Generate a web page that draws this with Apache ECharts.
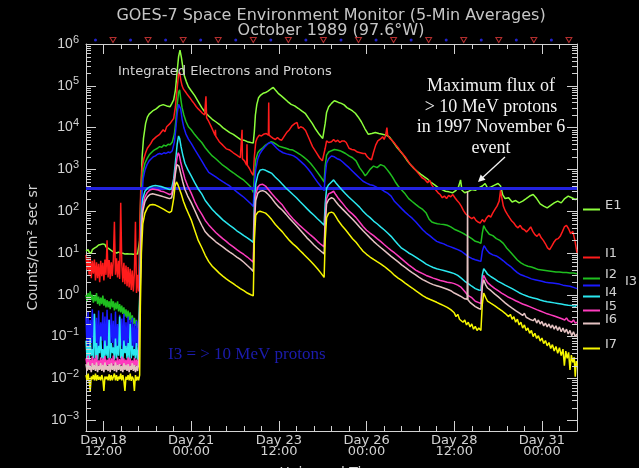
<!DOCTYPE html>
<html>
<head>
<meta charset="utf-8">
<script src="https://cdn.jsdelivr.net/npm/echarts@6/dist/echarts.min.js"></script>
<style>
  html, body { margin: 0; padding: 0; background: #000; }
  #chart { width: 639px; height: 468px; }
</style>
</head>
<body>
<div id="chart"></div>
<script>
// GOES-7 integrated particle fluxes, October 1989 (day of month, counts/cm2 sec sr)

// quiet period before the 19 October flare, shared time grid
const preDays = [
  18.00,18.03,18.06,18.09,18.12,18.15,18.18,18.21,18.24,18.27,
  18.30,18.33,18.36,18.39,18.42,18.45,18.48,18.51,18.54,18.57,
  18.60,18.63,18.66,18.69,18.72,18.75,18.78,18.81,18.84,18.87,
  18.90,18.93,18.96,18.99,19.02,19.05,19.08,19.11,19.14,19.17,
  19.20,19.23,19.26,19.29,19.32,19.35,19.38,19.41,19.44,19.47,
  19.50
];
const e1Pre = [
  11,10,12,10.5,11.5,10,12,11,13,12.5,
  14,13,15.5,14,16,14.5,16.5,15,16,14,
  15,13,13.5,12,12.5,11,12,10.5,11.5,10,
  11,10.5,11.5,10,11,9.8,10.8,9.5,10.5,9.6,
  10.6,9.4,10.4,9.5,10.2,9.3,10.2,9.5,10,9.4,
  10
];
const i1Pre = [
  9,4,7.5,3,8,2.5,6.5,3.2,7,2.2,
  6,2.5,5.5,2,6.5,2.8,5.8,2.2,7,3,
  20,2.6,6.8,2.4,6,2.8,7,56,3,7.5,
  2.6,6.5,2.4,160,5.5,2,5.8,1.8,5,1.6,
  4.6,1.5,4.2,1.3,3.8,1.2,3.4,56,1.1,3,
  1.2
];
const i2Pre = [
  1.0,0.7,1.1,0.8,1.2,0.75,1.0,0.65,0.95,0.7,
  1.1,0.6,0.9,0.55,0.85,0.6,0.95,0.55,0.8,0.5,
  0.75,0.5,0.7,0.45,0.8,0.5,0.7,0.42,0.65,0.45,
  0.7,0.4,0.6,0.38,0.55,0.35,0.5,0.3,0.45,0.28,
  0.42,0.25,0.38,0.22,0.32,0.2,0.28,0.18,0.25,0.16,
  0.2
];
const i3Pre = [
  0.30,0.05,0.40,0.045,0.25,0.07,0.45,0.05,0.35,0.06,
  0.28,0.04,0.42,0.055,0.22,0.08,0.38,0.05,0.30,0.045,
  0.44,0.06,0.26,0.05,0.36,0.07,0.24,0.04,0.40,0.055,
  0.20,0.05,0.33,0.06,0.27,0.045,0.35,0.055,0.22,0.05,
  0.30,0.07,0.25,0.045,0.28,0.055,0.20,0.05,0.24,0.06,
  0.18
];
const i4Pre = [
  0.08,0.03,0.06,0.025,0.09,0.035,0.05,0.03,0.35,0.03,
  0.07,0.028,0.06,0.04,0.10,0.03,0.05,0.025,0.08,0.035,
  0.06,0.03,0.25,0.03,0.07,0.04,0.055,0.028,0.09,0.03,
  0.06,0.035,0.30,0.03,0.05,0.025,0.08,0.04,0.06,0.03,
  0.07,0.028,0.2,0.03,0.06,0.035,0.05,0.03,0.07,0.028,
  0.05
];
const i5Pre = [
  0.030,0.020,0.035,0.018,0.028,0.020,0.033,0.017,0.030,0.021,
  0.036,0.019,0.027,0.020,0.032,0.018,0.030,0.020,0.034,0.017,
  0.028,0.021,0.031,0.018,0.030,0.020,0.035,0.019,0.027,0.020,
  0.032,0.018,0.029,0.021,0.033,0.017,0.030,0.020,0.028,0.019,
  0.032,0.018,0.030,0.020,0.027,0.018,0.031,0.020,0.028,0.019,
  0.030
];
const i6Pre = [
  0.022,0.015,0.024,0.016,0.020,0.014,0.023,0.016,0.021,0.015,
  0.024,0.014,0.020,0.016,0.023,0.015,0.021,0.014,0.024,0.016,
  0.020,0.015,0.022,0.014,0.023,0.016,0.020,0.015,0.024,0.014,
  0.021,0.016,0.022,0.015,0.020,0.014,0.023,0.016,0.021,0.015,
  0.022,0.014,0.020,0.016,0.023,0.015,0.021,0.014,0.020,0.015,
  0.022
];
const i7Pre = [
  0.012,0.009,0.013,0.0085,0.005,0.011,0.0095,0.012,0.009,0.013,
  0.0088,0.012,0.0092,0.011,0.009,0.012,0.0095,0.005,0.011,0.0095,
  0.011,0.009,0.0125,0.0088,0.012,0.009,0.0092,0.013,0.009,0.012,
  0.0087,0.011,0.0095,0.013,0.009,0.012,0.0088,0.005,0.011,0.0092,
  0.012,0.009,0.013,0.0087,0.011,0.0095,0.005,0.012,0.0088,0.011,
  0.009
];

// event period: [day, flux]
const e1Post = [
  [19.53,20],[19.56,200],[19.60,2000],[19.64,5600],[19.70,12600],[19.75,17800],[19.80,21000],[19.85,23000],
  [19.90,25000],[19.95,24000],[20.00,28000],[20.05,29500],[20.10,33000],[20.15,31600],[20.20,35500],[20.25,34000],
  [20.30,33000],[20.35,36000],[20.40,31600],[20.45,38000],[20.50,46000],[20.55,79000],[20.60,224000],[20.64,500000],
  [20.68,710000],[20.72,480000],[20.76,280000],[20.80,178000],[20.86,126000],[20.92,95000],[21.00,76000],[21.10,58000],
  [21.20,42000],[21.30,30000],[21.40,23000],[21.50,19000],[21.60,15800],[21.70,13800],[21.80,12000],[21.90,10000],
  [22.00,8700],[22.10,7600],[22.20,6900],[22.30,6000],[22.40,5200],[22.50,5000],[22.60,4600],[22.70,4400],[22.77,4300],
  [22.80,8000],[22.83,20000],[22.87,35500],[22.92,52000],[22.98,60000],[23.05,66000],[23.12,69000],[23.20,76000],
  [23.28,85000],[23.34,91000],[23.40,79000],[23.48,66000],[23.56,58000],[23.65,50000],[23.75,42000],[23.85,36000],
  [23.95,33000],[24.05,29000],[24.15,25000],[24.25,22000],[24.35,16600],[24.45,12600],[24.55,9100],[24.65,6900],
  [24.75,5500],[24.79,5200],
  [24.82,12600],[24.86,23000],[24.92,31600],[25.00,38000],[25.08,44000],[25.14,42000],[25.20,40000],[25.28,38000],
  [25.36,35000],[25.44,30000],[25.52,27500],[25.60,25000],[25.68,22000],[25.76,18000],[25.85,13800],[25.95,9500],
  [26.05,6900],[26.15,7200],[26.25,7600],[26.35,7200],[26.45,6900],[26.55,6600],[26.65,6000],[26.75,4600],
  [26.85,3500],[26.95,2800],[27.05,2200],[27.15,1660],[27.25,1300],[27.35,1050],[27.45,890],[27.55,760],
  [27.65,660],[27.75,575],[27.85,480],[27.95,420],[28.05,360],[28.15,330],[28.25,300],[28.35,290],
  [28.45,275],[28.55,316],[28.62,380],[28.68,560],[28.72,316],[28.80,275],[28.90,295],[29.00,330],
  [29.10,316],[29.20,360],[29.30,400],[29.38,460],[29.45,355],[29.55,380],[29.65,420],[29.75,460],
  [29.82,400],[29.88,250],[29.95,200],[30.05,210],[30.15,166],[30.25,180],[30.35,158],[30.45,174],
  [30.55,200],[30.65,230],[30.75,250],[30.85,200],[30.95,150],[31.05,132],[31.15,120],[31.25,138],
  [31.35,158],[31.45,174],[31.55,158],[31.65,200],[31.75,230],[31.85,210],[31.95,190],[32.00,200]
];
const i1Post = [
  [19.53,32],[19.56,316],[19.60,1100],[19.65,1800],[19.70,2500],[19.75,3200],[19.80,3500],[19.85,4200],
  [19.90,5000],[19.95,4600],[20.00,6000],[20.05,5500],[20.10,6900],[20.15,6300],[20.20,8900],[20.25,7900],
  [20.30,10500],[20.35,9500],[20.40,12600],[20.45,14000],[20.50,16600],[20.55,31600],[20.60,89000],[20.64,190000],
  [20.67,214000],[20.70,141000],[20.74,100000],[20.78,83000],[20.84,71000],[20.90,60000],[20.96,52000],[21.02,44000],
  [21.08,38000],[21.14,32000],[21.20,28000],[21.26,25000],[21.32,22000],[21.38,20000],[21.42,56000],[21.44,17000],
  [21.50,14000],[21.56,11000],[21.62,8500],[21.68,6500],[21.69,8900],[21.70,6200],[21.74,5500],[21.80,4600],
  [21.90,3800],[22.00,3100],[22.10,2900],[22.20,2500],[22.30,2200],[22.40,1900],[22.44,1800],[22.45,8900],
  [22.46,1800],[22.52,1600],[22.58,1260],[22.59,4000],[22.60,1260],[22.66,1050],[22.72,830],[22.77,720],
  [22.80,2000],[22.84,4500],[22.88,5600],[22.94,6600],[23.00,6300],[23.06,6900],[23.10,6300],[23.14,7200],
  [23.20,6600],[23.21,40000],[23.22,6600],[23.28,6000],[23.34,5500],[23.40,5200],[23.46,5800],[23.52,5200],
  [23.58,5000],[23.64,6000],[23.72,7600],[23.80,8900],[23.88,11200],[23.96,12600],[24.02,13200],[24.06,9500],
  [24.12,10500],[24.18,10000],[24.26,8500],[24.36,5500],[24.46,3500],[24.56,2600],[24.66,1900],[24.74,1600],[24.79,1500],
  [24.82,3200],[24.86,4800],[24.92,4400],[25.00,4600],[25.06,5200],[25.12,4600],[25.18,5000],[25.24,4400],
  [25.30,4800],[25.36,4800],[25.42,4400],[25.50,3200],[25.58,3000],[25.66,2900],[25.74,2600],[25.82,2500],
  [25.90,2400],[25.96,2400],[26.02,2000],[26.08,1800],[26.14,1700],[26.20,2600],[26.26,3800],[26.32,4800],
  [26.38,5200],[26.42,4800],[26.46,6000],[26.50,5200],[26.54,6300],[26.58,10000],[26.60,6600],[26.66,5500],
  [26.72,5000],[26.78,4400],[26.84,3800],[26.90,3300],[26.96,2750],[27.02,2400],[27.10,2000],[27.18,1600],
  [27.26,1260],[27.34,1100],[27.42,910],[27.50,760],[27.58,630],[27.66,575],[27.74,480],[27.80,550],
  [27.86,420],[27.92,360],[27.98,316],[28.04,275],[28.10,250],[28.16,210],[28.22,230],[28.28,200],
  [28.34,240],[28.40,220],[28.46,250],[28.52,210],[28.58,180],[28.64,158],[28.70,132],[28.76,105],
  [28.82,87],[28.88,79],[28.94,72],[29.00,66],[29.06,72],[29.12,60],[29.18,55],[29.24,52],
  [29.30,63],[29.36,55],[29.42,69],[29.48,79],[29.54,72],[29.60,91],[29.66,110],[29.72,132],
  [29.78,174],[29.82,316],[29.86,200],[29.90,132],[29.96,100],[30.02,83],[30.08,69],[30.14,58],
  [30.20,52],[30.26,44],[30.32,40],[30.38,46],[30.44,38],[30.50,36],[30.56,32],[30.62,36],
  [30.68,42],[30.74,33],[30.80,27.5],[30.86,25],[30.92,29],[30.98,23],[31.04,20],[31.10,16.6],
  [31.16,13.2],[31.22,12],[31.28,14.5],[31.34,18],[31.40,21],[31.46,22],[31.52,25],[31.58,32],
  [31.64,42],[31.70,46],[31.76,38],[31.82,29],[31.88,33],[31.94,20],[32.00,10]
];
const i2Post = [
  [19.53,0.8],[19.56,30],[19.59,400],[19.63,900],[19.68,1400],[19.74,1800],[19.80,2200],[19.86,2500],
  [19.92,2800],[19.98,3000],[20.04,3200],[20.10,3500],[20.16,3400],[20.22,3800],[20.28,3600],[20.34,4000],
  [20.40,3900],[20.46,4500],[20.52,7000],[20.56,14000],[20.60,35000],[20.64,70000],[20.67,80000],[20.70,50000],
  [20.74,30000],[20.79,20000],[20.85,14000],[20.92,10500],[21.00,8900],[21.10,6800],[21.20,5400],[21.30,4400],
  [21.40,3300],[21.50,2600],[21.60,2100],[21.70,1800],[21.80,1500],[21.90,1260],[22.00,1100],[22.10,950],
  [22.20,830],[22.30,720],[22.40,630],[22.50,550],[22.60,460],[22.70,380],[22.77,280],
  [22.80,700],[22.84,1700],[22.90,2500],[22.96,2900],[23.04,3300],[23.12,3800],[23.20,4200],[23.28,4600],
  [23.34,4400],[23.42,4000],[23.50,3600],[23.60,3400],[23.70,3200],[23.80,3000],[23.90,2900],[24.00,2600],
  [24.10,2300],[24.20,2000],[24.30,1700],[24.40,1400],[24.50,1100],[24.60,850],[24.70,650],[24.79,500],
  [24.82,1200],[24.86,2200],[24.92,2600],[25.00,2800],[25.08,3000],[25.16,2900],[25.24,2800],[25.32,2600],
  [25.40,2400],[25.50,2100],[25.60,1900],[25.70,1600],[25.80,1100],[25.90,850],[25.96,700],[26.02,800],
  [26.10,1000],[26.20,1200],[26.30,1100],[26.40,1300],[26.50,1200],[26.58,1000],[26.66,820],[26.74,650],
  [26.82,500],[26.90,400],[27.00,320],[27.10,260],[27.20,200],[27.30,170],[27.40,145],[27.50,125],
  [27.60,110],[27.70,90],[27.78,65],[27.86,55],[27.94,52],[28.02,50],[28.10,49],[28.20,48],
  [28.30,46],[28.40,42],[28.50,37],[28.60,34],[28.70,31],[28.80,28],[28.90,25],[29.00,22],
  [29.10,19],[29.20,18],[29.26,17],[29.30,30],[29.34,45],[29.40,36],[29.50,28],[29.60,26],
  [29.70,22],[29.80,20],[29.90,17],[30.00,13],[30.10,10.5],[30.20,8.5],[30.30,6.8],[30.40,5.8],
  [30.50,5.2],[30.60,4.8],[30.70,4.6],[30.80,4.3],[30.90,4.0],[31.00,3.9],[31.10,3.8],[31.20,3.7],
  [31.30,3.6],[31.40,3.5],[31.50,3.5],[31.60,3.4],[31.70,3.4],[31.80,3.3],[31.90,3.3],[32.00,3.2]
];
const i3Post = [
  [19.53,0.3],[19.56,15],[19.59,200],[19.63,600],[19.68,950],[19.74,1300],[19.80,1600],[19.86,1800],
  [19.92,2000],[19.98,2100],[20.04,2300],[20.10,2400],[20.16,2300],[20.22,2500],[20.28,2400],[20.34,2600],
  [20.40,2500],[20.46,2800],[20.52,4500],[20.56,9000],[20.60,22000],[20.64,36000],[20.67,40000],[20.70,28000],
  [20.74,16000],[20.79,10000],[20.85,7000],[20.92,5300],[21.00,4200],[21.10,3000],[21.20,2200],[21.30,1600],
  [21.40,1150],[21.50,850],[21.60,750],[21.70,660],[21.80,580],[21.90,510],[22.00,450],[22.10,400],
  [22.20,340],[22.30,290],[22.40,250],[22.50,215],[22.60,180],[22.70,150],[22.77,130],
  [22.80,400],[22.84,1000],[22.90,1800],[22.96,2400],[23.04,3000],[23.12,3600],[23.20,4200],[23.28,4400],
  [23.36,3800],[23.44,3200],[23.52,2800],[23.62,2500],[23.72,2350],[23.82,2250],[23.92,2100],[24.02,1850],
  [24.12,1550],[24.22,1300],[24.32,1050],[24.42,820],[24.52,620],[24.62,470],[24.72,370],[24.79,310],
  [24.82,700],[24.86,1400],[24.92,1800],[25.00,2100],[25.08,2000],[25.16,1800],[25.24,1700],[25.32,1500],
  [25.40,1300],[25.50,1100],[25.60,900],[25.70,750],[25.80,620],[25.90,520],[26.00,470],[26.10,430],
  [26.20,410],[26.30,370],[26.40,340],[26.50,300],[26.60,270],[26.70,230],[26.80,170],[26.90,140],
  [27.00,115],[27.10,95],[27.20,80],[27.30,68],[27.40,56],[27.50,45],[27.60,36],[27.70,30],
  [27.80,26],[27.90,22],[28.00,19],[28.10,17.5],[28.20,16.5],[28.30,15],[28.40,14],[28.50,13],
  [28.60,12],[28.70,11],[28.80,9.5],[28.90,8.2],[29.00,7.4],[29.10,6.9],[29.20,6.5],[29.26,6.3],
  [29.30,11],[29.35,15],[29.42,12],[29.50,10],[29.60,9],[29.70,8.5],[29.80,7.5],[29.90,6.5],
  [30.00,5.5],[30.10,4.8],[30.20,4.0],[30.30,3.4],[30.40,3.0],[30.50,2.8],[30.60,2.6],[30.70,2.4],
  [30.80,2.3],[30.90,2.2],[31.00,2.1],[31.10,2.0],[31.20,1.95],[31.30,1.9],[31.40,1.85],[31.50,1.8],
  [31.60,1.7],[31.70,1.65],[31.80,1.6],[31.90,1.5],[32.00,1.4]
];
const i4Post = [
  [19.53,0.05],[19.55,5],[19.58,80],[19.62,200],[19.68,300],[19.75,350],[19.82,380],[19.90,400],
  [19.98,410],[20.06,400],[20.14,390],[20.22,370],[20.30,350],[20.38,330],[20.44,340],[20.50,600],
  [20.55,1500],[20.60,4000],[20.64,6300],[20.67,5500],[20.71,3500],[20.76,2200],[20.82,1400],[20.90,1000],
  [21.00,700],[21.10,480],[21.20,340],[21.30,260],[21.40,180],[21.50,140],[21.60,110],[21.70,90],
  [21.80,75],[21.90,62],[22.00,53],[22.10,46],[22.20,40],[22.30,34],[22.40,30],[22.50,26],
  [22.60,23],[22.70,20],[22.77,18],
  [22.80,150],[22.84,450],[22.90,750],[22.96,950],[23.04,1000],[23.12,950],[23.20,880],[23.30,800],
  [23.40,650],[23.50,540],[23.60,440],[23.70,360],[23.80,300],[23.90,250],[24.00,210],[24.10,170],
  [24.20,140],[24.30,115],[24.40,95],[24.50,80],[24.60,66],[24.70,55],[24.79,46],
  [24.82,150],[24.86,350],[24.92,430],[25.00,500],[25.06,560],[25.12,480],[25.20,400],[25.30,320],
  [25.40,260],[25.50,215],[25.60,180],[25.70,150],[25.80,125],[25.90,100],[26.00,82],[26.10,70],
  [26.20,58],[26.30,50],[26.40,42],[26.50,36],[26.60,30],[26.70,25],[26.80,20],[26.90,16],
  [27.00,13],[27.10,11.5],[27.20,10],[27.30,9],[27.40,8],[27.50,7],[27.60,6.2],[27.70,5.4],
  [27.80,4.9],[27.90,4.5],[28.00,4.2],[28.10,4.0],[28.20,3.8],[28.30,3.6],[28.40,3.4],[28.50,3.2],
  [28.60,2.9],[28.70,2.5],[28.80,2.1],[28.90,1.85],[29.00,1.6],[29.10,1.4],[29.20,1.3],[29.26,1.28],
  [29.30,3],[29.34,4.2],[29.40,3.6],[29.45,3.1],[29.50,3.2],[29.55,2.7],[29.60,2.8],[29.65,2.4],
  [29.70,2.5],[29.75,2.1],[29.80,2.2],[29.85,1.9],[29.90,2.0],[29.95,1.7],[30.00,1.85],[30.05,1.55],
  [30.10,1.65],[30.15,1.4],[30.20,1.5],[30.25,1.25],[30.30,1.35],[30.35,1.12],[30.40,1.2],[30.45,1.02],
  [30.50,1.1],[30.55,0.95],[30.60,1.02],[30.65,0.88],[30.70,0.96],[30.75,0.84],[30.80,0.9],[30.85,0.8],
  [30.90,0.85],[30.95,0.75],[31.00,0.8],[31.05,0.71],[31.10,0.77],[31.15,0.68],[31.20,0.74],[31.25,0.66],
  [31.30,0.72],[31.35,0.64],[31.40,0.7],[31.45,0.62],[31.50,0.68],[31.55,0.6],[31.60,0.66],[31.65,0.58],
  [31.70,0.64],[31.75,0.56],[31.80,0.62],[31.85,0.55],[31.90,0.6],[31.95,0.53],[32.00,0.58]
];
const i5Post = [
  [19.53,0.03],[19.55,3],[19.58,50],[19.62,130],[19.68,220],[19.75,280],[19.82,320],[19.90,340],
  [19.98,330],[20.06,320],[20.14,300],[20.22,290],[20.30,270],[20.38,250],[20.44,260],[20.50,450],
  [20.55,1000],[20.60,2000],[20.63,2500],[20.66,2200],[20.70,1500],[20.75,1000],[20.82,600],[20.90,400],
  [21.00,270],[21.10,170],[21.20,115],[21.30,85],[21.40,60],[21.50,47],[21.60,38],[21.70,31],
  [21.80,26],[21.90,22],[22.00,19],[22.10,16],[22.20,14],[22.30,12],[22.40,10.5],[22.50,9.2],
  [22.60,8],[22.70,6.8],[22.77,6],
  [22.80,80],[22.84,250],[22.90,380],[22.96,430],[23.04,440],[23.12,400],[23.20,330],[23.30,260],
  [23.40,210],[23.50,170],[23.60,140],[23.70,105],[23.80,82],[23.90,66],[24.00,54],[24.10,45],
  [24.20,38],[24.30,32],[24.40,27],[24.50,23],[24.60,19],[24.70,16],[24.79,14],
  [24.82,70],[24.86,200],[24.92,260],[25.00,280],[25.06,300],[25.12,250],[25.20,200],[25.30,160],
  [25.40,125],[25.50,100],[25.60,85],[25.70,70],[25.80,55],[25.90,43],[26.00,35],[26.10,30],
  [26.20,26],[26.30,22],[26.40,19],[26.50,16],[26.60,13.5],[26.70,11.5],[26.80,10],[26.90,8.5],
  [27.00,7.2],[27.10,6.1],[27.20,5.2],[27.30,4.5],[27.40,3.9],[27.50,3.5],[27.60,3.2],[27.70,2.9],
  [27.80,2.7],[27.90,2.5],[28.00,2.35],[28.10,2.2],[28.20,2.1],[28.30,2.0],[28.40,1.95],[28.50,1.85],
  [28.60,1.7],[28.70,1.5],[28.80,1.2],[28.90,0.95],[29.00,0.85],[29.10,0.7],[29.20,0.65],[29.26,0.62],
  [29.30,2.2],[29.34,2.9],[29.40,2.3],[29.45,1.95],[29.50,2.0],[29.55,1.65],[29.60,1.7],[29.65,1.42],
  [29.70,1.48],[29.75,1.25],[29.80,1.3],[29.85,1.1],[29.90,1.15],[29.95,0.98],[30.00,1.02],[30.05,0.87],
  [30.10,0.92],[30.15,0.8],[30.20,0.84],[30.25,0.72],[30.30,0.76],[30.35,0.66],[30.40,0.7],[30.45,0.6],
  [30.50,0.64],[30.55,0.56],[30.60,0.6],[30.65,0.52],[30.70,0.56],[30.75,0.48],[30.80,0.52],[30.85,0.44],
  [30.90,0.48],[30.95,0.41],[31.00,0.44],[31.05,0.38],[31.10,0.41],[31.15,0.35],[31.20,0.38],[31.25,0.33],
  [31.30,0.36],[31.35,0.31],[31.40,0.34],[31.45,0.29],[31.50,0.32],[31.55,0.27],[31.60,0.3],[31.65,0.25],
  [31.70,0.28],[31.75,0.24],[31.80,0.26],[31.85,0.22],[31.90,0.25],[31.95,0.21],[32.00,0.22]
];
const i6Post = [
  [19.53,0.02],[19.55,2],[19.58,35],[19.62,100],[19.68,170],[19.75,220],[19.82,250],[19.90,260],
  [19.98,250],[20.06,240],[20.14,230],[20.22,220],[20.30,210],[20.38,200],[20.44,210],[20.50,350],
  [20.55,800],[20.59,1300],[20.62,1450],[20.65,1200],[20.70,800],[20.76,500],[20.82,330],[20.90,230],
  [21.00,160],[21.10,105],[21.20,68],[21.30,46],[21.40,32],[21.50,26],[21.60,22],[21.70,18.5],
  [21.80,16],[21.90,14],[22.00,12],[22.10,10.5],[22.20,9.2],[22.30,8],[22.40,7],[22.50,6],
  [22.60,5],[22.70,4.2],[22.77,3.6],
  [22.80,50],[22.84,180],[22.90,270],[22.96,300],[23.04,310],[23.12,290],[23.20,250],[23.30,200],
  [23.40,155],[23.50,125],[23.60,105],[23.70,85],[23.80,68],[23.90,55],[24.00,45],[24.10,36],
  [24.20,29],[24.30,23],[24.40,19],[24.50,15.5],[24.60,13],[24.70,11],[24.79,9.5],
  [24.82,50],[24.86,150],[24.92,190],[25.00,210],[25.06,200],[25.12,170],[25.20,140],[25.30,115],
  [25.40,95],[25.50,78],[25.60,64],[25.70,52],[25.80,42],[25.90,34],[26.00,28],[26.10,23],
  [26.20,19],[26.30,16],[26.40,13.5],[26.50,11.5],[26.60,9.8],[26.70,8.3],[26.80,7.1],[26.90,6.1],
  [27.00,5.2],[27.10,4.5],[27.20,3.9],[27.30,3.4],[27.40,3.0],[27.50,2.6],[27.60,2.3],[27.70,2.1],
  [27.80,1.9],[27.90,1.75],[28.00,1.65],[28.10,1.55],[28.20,1.45],[28.30,1.35],[28.40,1.25],[28.50,1.1],
  [28.60,1.0],[28.70,0.9],[28.80,0.8],[28.87,0.78],[28.88,300],[28.89,0.76],[28.95,0.66],[29.00,0.6],
  [29.10,0.52],[29.20,0.47],[29.26,0.45],[29.30,1.6],[29.34,2.3],
  [29.40,1.7],[29.45,1.45],[29.50,1.5],[29.55,1.25],[29.60,1.3],[29.65,1.05],[29.70,1.1],[29.75,0.9],
  [29.80,0.95],[29.85,0.76],[29.90,0.8],[29.95,0.64],[30.00,0.68],[30.05,0.55],[30.10,0.6],[30.15,0.48],
  [30.20,0.52],[30.25,0.42],[30.30,0.46],[30.35,0.37],[30.40,0.4],[30.45,0.32],[30.50,0.36],[30.55,0.29],
  [30.60,0.32],[30.65,0.26],[30.70,0.29],[30.75,0.24],[30.80,0.27],[30.85,0.21],[30.90,0.25],[30.95,0.2],
  [31.00,0.23],[31.05,0.18],[31.10,0.21],[31.15,0.17],[31.20,0.2],[31.25,0.16],[31.30,0.19],[31.35,0.15],
  [31.40,0.18],[31.45,0.14],[31.50,0.17],[31.55,0.13],[31.60,0.16],[31.65,0.125],[31.70,0.15],[31.75,0.115],
  [31.80,0.14],[31.85,0.105],[31.90,0.13],[31.95,0.1],[32.00,0.115]
];
const i7Post = [
  [19.53,0.012],[19.55,0.5],[19.58,10],[19.62,50],[19.68,90],[19.75,120],[19.82,140],[19.90,145],
  [19.98,140],[20.06,130],[20.14,120],[20.22,110],[20.30,100],[20.38,92],[20.44,100],[20.50,200],
  [20.54,400],[20.58,500],[20.62,430],[20.67,330],[20.72,250],[20.78,170],[20.85,120],[20.92,88],
  [21.00,62],[21.10,35],[21.20,20],[21.30,13.5],[21.40,8.8],[21.50,6.2],[21.60,4.8],[21.70,4],
  [21.80,3.3],[21.90,2.8],[22.00,2.4],[22.10,2.1],[22.20,1.85],[22.30,1.6],[22.40,1.4],[22.50,1.25],
  [22.60,1.1],[22.70,1.0],[22.77,0.95],
  [22.80,20],[22.84,80],[22.90,95],[22.96,100],[23.04,95],[23.12,90],[23.20,78],[23.30,62],
  [23.40,48],[23.50,39],[23.60,32],[23.70,25],[23.80,20],[23.90,16.5],[24.00,14],[24.10,11.5],
  [24.20,9.5],[24.30,7.8],[24.40,6.4],[24.50,5.2],[24.60,4.2],[24.70,3.3],[24.79,2.6],
  [24.82,20],[24.86,70],[24.92,90],[25.00,95],[25.06,90],[25.12,75],[25.20,58],[25.30,45],
  [25.40,36],[25.50,28],[25.60,22],[25.70,18],[25.80,14],[25.90,11],[26.00,9.3],[26.10,8],
  [26.20,7],[26.30,6.2],[26.40,5.5],[26.50,4.8],[26.60,4.1],[26.70,3.5],[26.80,2.9],[26.90,2.5],
  [27.00,2.2],[27.10,1.9],[27.20,1.65],[27.30,1.45],[27.40,1.25],[27.50,1.1],[27.60,0.95],[27.70,0.85],
  [27.80,0.78],[27.90,0.72],[28.00,0.66],[28.10,0.6],[28.20,0.55],[28.30,0.5],[28.40,0.44],
  [28.50,0.37],[28.55,0.3],[28.60,0.34],[28.65,0.26],[28.70,0.29],[28.75,0.22],[28.80,0.25],[28.85,0.19],
  [28.90,0.22],[28.95,0.17],[29.00,0.2],[29.05,0.15],[29.10,0.175],[29.15,0.14],[29.20,0.16],[29.26,0.14],
  [29.30,0.6],[29.34,1.1],
  [29.40,0.85],[29.45,0.7],[29.50,0.78],[29.55,0.62],[29.60,0.68],[29.65,0.55],[29.70,0.6],[29.75,0.48],
  [29.80,0.52],[29.85,0.42],[29.90,0.45],[29.95,0.36],[30.00,0.4],[30.05,0.3],[30.10,0.34],[30.15,0.26],
  [30.20,0.3],[30.25,0.22],[30.30,0.26],[30.35,0.19],[30.40,0.22],[30.45,0.16],[30.50,0.19],[30.55,0.14],
  [30.60,0.16],[30.65,0.12],[30.70,0.14],[30.75,0.1],[30.80,0.12],[30.85,0.09],[30.90,0.105],[30.95,0.078],
  [31.00,0.092],[31.05,0.068],[31.10,0.08],[31.15,0.06],[31.20,0.072],[31.25,0.052],[31.30,0.064],[31.35,0.045],
  [31.40,0.058],[31.45,0.04],[31.50,0.054],[31.55,0.035],[31.60,0.05],[31.64,0.02],[31.68,0.045],[31.72,0.03],
  [31.76,0.042],[31.80,0.016],[31.84,0.036],[31.88,0.024],[31.92,0.032],[31.95,0.011],[31.98,0.026],[32.00,0.02]
];

const channelNames = ['E1', 'I1', 'I2', 'I3', 'I4', 'I5', 'I6', 'I7'];
const preSets = [e1Pre, i1Pre, i2Pre, i3Pre, i4Pre, i5Pre, i6Pre, i7Pre];
const postSets = [e1Post, i1Post, i2Post, i3Post, i4Post, i5Post, i6Post, i7Post];

// local noon (18:30 UT) and local midnight (06:30 UT) at 97.6°W
const localNoon = [18.77,19.77,20.77,21.77,22.77,23.77,24.77,25.77,26.77,27.77,28.77,29.77,30.77,31.77];
const localMidnight = [18.27,19.27,20.27,21.27,22.27,23.27,24.27,25.27,26.27,27.27,28.27,29.27,30.27,31.27];

// axis ticks
const dayTicks = [18.5, 21, 23.5, 26, 28.5, 31];
const dayTickLabels = ['Day 18\n12:00', 'Day 21\n00:00', 'Day 23\n12:00', 'Day 26\n00:00', 'Day 28\n12:00', 'Day 31\n00:00'];
const decadeTicks = [1e-3, 1e-2, 1e-1, 1, 10, 100, 1e3, 1e4, 1e5, 1e6];

// peak >10 MeV proton flux of the 1997 November 6 event
const nov1997Max = 345;

// ---- styling ----
const channelColors = ['#8cff3c', '#ff1c1c', '#1fbf1f', '#1a1aff', '#2ae8f0', '#ff3cbe', '#e4c2c2', '#f6f600'];
const legendLineY = [208, 256, 277, 284, 295, 309, 322, 347];
const ink = '#d2d2d2';
const sans = '"DejaVu Sans", sans-serif';
const serif = '"Liberation Serif", "DejaVu Serif", serif';
const yMin = 5.5e-4, yMax = 1e6;

// 2..9 x 10^n positions for the short log ticks on both frame sides
const minorLogTicks = [];
for (let e = -3; e <= 5; e++) {
  for (let m = 2; m <= 9; m++) minorLogTicks.push(m * Math.pow(10, e));
}

const chart = echarts.init(document.getElementById('chart'), null, { renderer: 'canvas' });

const baseX = {
  type: 'value', min: 18, max: 32, gridIndex: 0,
  splitLine: { show: false },
  axisLine: { show: true, lineStyle: { color: ink, width: 1 } }
};
const baseY = {
  type: 'log', logBase: 10, min: yMin, max: yMax, gridIndex: 0,
  splitLine: { show: false }, minorTick: { show: false },
  axisLine: { show: true, lineStyle: { color: ink, width: 1 } }
};

const expText = v => {
  const e = Math.round(Math.log10(v));
  return '{b|10}{s|' + (e < 0 ? '\u2212' + (-e) : String(e)) + '}';
};

const lineSeries = channelNames.map((name, k) => ({
  name: name,
  type: 'line',
  xAxisIndex: 0, yAxisIndex: 0,
  data: preDays.map((t, i) => [t, preSets[k][i]]).concat(postSets[k]),
  showSymbol: false, symbol: 'none',
  lineStyle: { color: channelColors[k], width: 1.5 },
  itemStyle: { color: channelColors[k] },
  z: 2 + k,
  animation: false
}));

const legends = channelNames.map((name, k) => ({
  data: [name],
  left: 583, top: legendLineY[k] - 9,
  orient: 'vertical', padding: 0,
  icon: 'rect', itemWidth: 17, itemHeight: 2, itemGap: 0,
  selectedMode: false,
  formatter: n => '{t|' + n + '}',
  textStyle: {
    rich: {
      t: { color: ink, fontFamily: sans, fontSize: 13,
           padding: name === 'I3' ? [0, 0, 8, 20] : [0, 0, 8, 0] }
    }
  }
}));

const option = {
  backgroundColor: '#000',
  animation: false,
  grid: { left: 86, right: 62, top: 44, bottom: 37, containLabel: false, outerBoundsMode: 'none' },
  legend: legends,
  xAxis: [
    Object.assign({}, baseX, { position: 'bottom', interval: 0.5,
      axisTick: { show: true, inside: true, length: 5, lineStyle: { color: ink } },
      axisLabel: { show: false },
      name: 'Universal Time', nameLocation: 'middle', nameGap: 35,
      nameTextStyle: { color: ink, fontFamily: sans, fontSize: 14 } }),
    Object.assign({}, baseX, { position: 'bottom',
      axisLine: { show: false },
      axisTick: { show: true, inside: true, length: 10, customValues: dayTicks, lineStyle: { color: ink } },
      axisLabel: { show: true, customValues: dayTicks, color: ink, fontFamily: sans, fontSize: 13,
        lineHeight: 11, margin: 4,
        formatter: v => dayTickLabels[dayTicks.indexOf(v)] } }),
    Object.assign({}, baseX, { position: 'top', interval: 0.5,
      axisTick: { show: true, inside: true, length: 5, lineStyle: { color: ink } },
      axisLabel: { show: false } }),
    Object.assign({}, baseX, { position: 'top',
      axisLine: { show: false },
      axisTick: { show: true, inside: true, length: 10, customValues: dayTicks, lineStyle: { color: ink } },
      axisLabel: { show: false } })
  ],
  yAxis: [
    Object.assign({}, baseY, { position: 'left',
      axisTick: { show: true, inside: true, length: 10, customValues: decadeTicks, lineStyle: { color: ink } },
      axisLabel: { show: true, customValues: decadeTicks, margin: 7, formatter: expText,
        rich: {
          b: { color: ink, fontFamily: '"Liberation Sans", sans-serif', fontSize: 14 },
          s: { color: ink, fontFamily: '"Liberation Sans", sans-serif', fontSize: 11, padding: [0, 0, 9, 0] }
        } },
      name: 'Counts/cm\u00b2 sec sr', nameLocation: 'middle', nameGap: 46, nameRotate: 90,
      nameTextStyle: { color: ink, fontFamily: sans, fontSize: 14, padding: [0, 20, 0, 0] } }),
    Object.assign({}, baseY, { position: 'right',
      axisTick: { show: true, inside: true, length: 10, customValues: decadeTicks, lineStyle: { color: ink } },
      axisLabel: { show: false } })
  ],
  series: lineSeries.concat([
    {
      name: 'Nov 1997 maximum',
      type: 'line', xAxisIndex: 0, yAxisIndex: 0, data: [],
      z: 20, silent: true,
      markLine: {
        silent: true, symbol: 'none', animation: false,
        label: { show: false },
        lineStyle: { color: '#2222e0', width: 3, type: 'solid' },
        data: [{ yAxis: nov1997Max }]
      }
    },
    {
      name: 'log ticks', type: 'custom', xAxisIndex: 0, yAxisIndex: 0,
      data: minorLogTicks.map(v => [18, v]), silent: true, clip: false, z: 25,
      renderItem: (params, api) => {
        const l = api.coord([18, api.value(1)]);
        const r = api.coord([32, api.value(1)]);
        const y = Math.round(l[1]) + 0.5;
        return {
          type: 'group',
          children: [
            { type: 'line', shape: { x1: l[0], y1: y, x2: l[0] + 5, y2: y }, style: { stroke: ink, lineWidth: 1 } },
            { type: 'line', shape: { x1: r[0] - 5, y1: y, x2: r[0], y2: y }, style: { stroke: ink, lineWidth: 1 } }
          ]
        };
      }
    },
    {
      name: 'local midnight', type: 'scatter', xAxisIndex: 0, yAxisIndex: 0,
      data: localMidnight.map(t => [t, yMax]), clip: false, silent: true,
      symbol: 'circle', symbolSize: 3, symbolOffset: [0, -4],
      itemStyle: { color: '#2b2bff' }, z: 20
    },
    {
      name: 'local noon', type: 'scatter', xAxisIndex: 0, yAxisIndex: 0,
      data: localNoon.map(t => [t, yMax]), clip: false, silent: true,
      symbol: 'triangle', symbolSize: [6, 5], symbolRotate: 180, symbolOffset: [0, -4],
      itemStyle: { color: 'rgba(0,0,0,0)', borderColor: '#e03a3a', borderWidth: 1 }, z: 20
    }
  ]),
  graphic: [
    { type: 'text', silent: true, style: { text: 'GOES-7 Space Environment Monitor (5-Min Averages)', x: 331, y: 16,
        align: 'center', verticalAlign: 'middle', fill: '#c6c6c6', font: '16px ' + sans } },
    { type: 'text', silent: true, style: { text: 'October 1989 (97.6\u00b0W)', x: 331, y: 31,
        align: 'center', verticalAlign: 'middle', fill: '#c6c6c6', font: '16px ' + sans } },
    { type: 'text', silent: true, z: 30, style: { text: 'Integrated Electrons and Protons', x: 118, y: 72,
        align: 'left', verticalAlign: 'middle', fill: ink, font: '13px ' + sans } },
    { type: 'text', silent: true, z: 30, style: { text: 'Maximum flux of\n> 10 MeV protons\nin 1997 November 6\nevent',
        x: 491, y: 76, align: 'center', verticalAlign: 'top', lineHeight: 20.7, fill: '#f2f2f2', font: '18px ' + serif } },
    { type: 'line', silent: true, z: 30, shape: { x1: 505, y1: 157, x2: 481, y2: 179 },
      style: { stroke: '#f2f2f2', lineWidth: 1.3 } },
    { type: 'polygon', silent: true, z: 30, shape: { points: [[478, 182], [485.5, 179.8], [480.7, 174.6]] },
      style: { fill: '#f2f2f2' } },
    { type: 'text', silent: true, z: 30, style: { text: 'I3 = > 10 MeV protons', x: 168, y: 355,
        align: 'left', verticalAlign: 'middle', fill: '#1c1cae', font: '17px ' + serif } }
  ]
};

chart.setOption(option);
</script>
</body>
</html>
